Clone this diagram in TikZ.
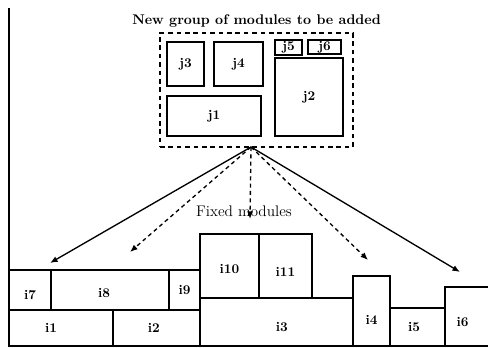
\documentclass[tikz,border=0pt]{standalone}
\usetikzlibrary{
  arrows.meta,
  fit,
  positioning}
\tikzset{
  module/.style={%
    draw=black,
    % No inner sep, so that the fitted box is exactly the given corners.
    inner sep=0pt
  },
  group/.style={%
    draw=black, dash pattern=on 3.5pt off 2.8pt,
    inner sep=0pt
  },
  arrowR/.style={%
    -{Latex[length=2mm,width=1.6mm]}
  },
  arrowRD/.style={%
    dash pattern=on 3pt off 2.5pt,
    -{Latex[length=2mm,width=1.6mm]}
  }%
}

\begin{document}
\begin{tikzpicture}[x=0.75pt,y=-0.75pt,line width=1pt,
    every label/.append style={font=\bfseries}]
\useasboundingbox (0,0) rectangle (488,348);

% Floor and left wall of the placement area.
\draw (9,8) -- (9,346) -- (488,346);

% Fixed modules, bottom row first. The labels sit a little off
% centre, as in the original sketch.
\node[module, fit={(9,310) (113,346)},
  label={[xshift=-7.5pt]center:i1}] (i1) {};
\node[module, fit={(113,310) (200,346)},
  label={[xshift=-2pt]center:i2}] (i2) {};
\node[module, fit={(9,270) (51,310)},
  label={[yshift=-3.5pt]center:i7}] (i7) {};
\node[module, fit={(51,270) (169,310)},
  label={[xshift=-4.5pt,yshift=-2pt]center:i8}] (i8) {};
\node[module, fit={(169,270) (200,310)}, label={center:i9}] (i9) {};
\node[module, fit={(200,298) (353,346)},
  label={[xshift=4pt,yshift=-3.5pt]center:i3}] (i3) {};
\node[module, fit={(200,234) (259,298)},
  label={[yshift=-2pt]center:i10}] (i10) {};
\node[module, fit={(259,234) (312,298)},
  label={[yshift=-4.5pt]center:i11}] (i11) {};
\node[module, fit={(353,276) (390,346)},
  label={[yshift=-6.5pt]center:i4}] (i4) {};
\node[module, fit={(390,308) (445,346)},
  label={[xshift=-2.5pt]center:i5}] (i5) {};
% i6 runs past the right edge of the picture.
\node[module, fit={(445,287) (496,346)},
  label={[xshift=-6pt,yshift=-4pt]center:i6}] (i6) {};

% New group of modules, inside a dashed outline.
\node[module, fit={(167,42) (204,86)}, label={center:j3}] (j3) {};
\node[module, fit={(214,42) (263,86)}, label={center:j4}] (j4) {};
\node[module, fit={(167,96) (261,136)}, label={center:j1}] (j1) {};
\node[module, fit={(275,40) (302,55)}, label={center:j5}] (j5) {};
\node[module, fit={(308,40) (341,54)}, label={center:j6}] (j6) {};
\node[module, fit={(275,58) (343,136)}, label={center:j2}] (j2) {};
\node[group, fit={(160,33) (353,147)},
  label={[font=\fontsize{10.5}{13}\selectfont\bfseries]above:New group of modules to be added}]
  (newGroup) {};

\node[font=\fontsize{11.5}{14}\selectfont] (fixedLabel) at (244,211) {Fixed modules};

% Candidate places for the group.
\coordinate (apex) at (251,147);
\coordinate (tipA) at (50,263);
\coordinate (tipB) at (130,252);
\coordinate (tipC) at (250,219);
\coordinate (tipD) at (368,260);
\coordinate (tipE) at (460,272);

\draw[arrowR] (apex)--(tipA);
\draw[arrowRD] (apex)--(tipB);
\draw[arrowRD] (apex)--(tipC);
\draw[arrowRD] (apex)--(tipD);
\draw[arrowR] (apex)--(tipE);

\end{tikzpicture}
\end{document}
